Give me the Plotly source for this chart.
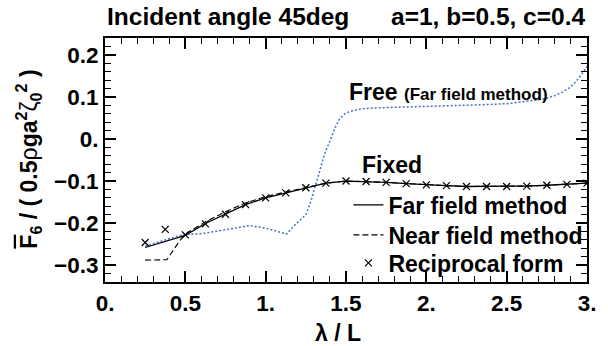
import plotly.graph_objects as go

# ---- data ----
free_x = [0.25, 0.3, 0.35, 0.4, 0.45, 0.5, 0.6, 0.7, 0.8, 0.9, 1.0, 1.05, 1.1, 1.13,
          1.18, 1.22, 1.25, 1.28, 1.31, 1.34, 1.37, 1.4, 1.43, 1.46, 1.5, 1.55, 1.6,
          1.7, 1.8, 1.9, 2.0, 2.1, 2.2, 2.3, 2.4, 2.5, 2.6, 2.7, 2.75, 2.8, 2.85, 2.9,
          2.95, 3.0]
free_y = [-0.255, -0.249, -0.243, -0.237, -0.231, -0.227, -0.225, -0.219, -0.212, -0.206,
          -0.212, -0.218, -0.223, -0.226, -0.205, -0.192, -0.180, -0.150, -0.112, -0.068,
          -0.032, -0.005, 0.025, 0.048, 0.062, 0.068, 0.072, 0.074, 0.075, 0.076, 0.077,
          0.078, 0.079, 0.080, 0.082, 0.084, 0.088, 0.093, 0.097, 0.103, 0.112, 0.124,
          0.145, 0.172]

fixed_x = [0.25, 0.375, 0.5, 0.625, 0.75, 0.875, 1.0, 1.125, 1.25, 1.375, 1.5, 1.625,
           1.75, 1.875, 2.0, 2.125, 2.25, 2.375, 2.5, 2.625, 2.75, 2.875, 3.0]
far_y = [-0.258, -0.244, -0.229, -0.201, -0.178, -0.156, -0.140, -0.128, -0.116, -0.105,
         -0.100, -0.101, -0.103, -0.106, -0.109, -0.111, -0.113, -0.113, -0.113, -0.112,
         -0.110, -0.108, -0.105]

near_x = [0.25, 0.385, 0.463, 0.5, 0.625, 0.75, 0.875, 1.0, 1.125, 1.25, 1.375, 1.5,
          1.625, 1.75, 1.875, 2.0, 2.125, 2.25, 2.375, 2.5, 2.625, 2.75, 2.875, 3.0]
near_y = [-0.288, -0.287, -0.243, -0.226, -0.197, -0.173, -0.152, -0.137, -0.126, -0.115,
          -0.105, -0.100, -0.101, -0.103, -0.106, -0.109, -0.111, -0.113, -0.113, -0.113,
          -0.112, -0.110, -0.108, -0.105]

recip_y = [-0.246, -0.215, -0.228, -0.202, -0.179, -0.156, -0.140, -0.128, -0.116, -0.105,
           -0.100, -0.101, -0.103, -0.106, -0.109, -0.111, -0.113, -0.113, -0.113, -0.112,
           -0.110, -0.108, -0.105]

x_tickvals = [0, 0.5, 1, 1.5, 2, 2.5, 3]
x_ticktext = ["0.", "0.5", "1.", "1.5", "2.", "2.5", "3."]
y_tickvals = [-0.3, -0.2, -0.1, 0, 0.1, 0.2]
y_ticktext = ["\u22120.3", "\u22120.2", "\u22120.1", "0.", "0.1", "0.2"]

FONT = "Liberation Sans, Arial, sans-serif"

fig = go.Figure()
fig.add_trace(go.Scatter(x=free_x, y=free_y, mode="lines", showlegend=False,
                         line=dict(color="#4472C4", width=1.5, dash="2px,2px")))
fig.add_trace(go.Scatter(x=fixed_x, y=far_y, mode="lines", name="Far field method",
                         legend="legend",
                         line=dict(color="black", width=1.3)))
fig.add_trace(go.Scatter(x=near_x, y=near_y, mode="lines", name="Near field method",
                         legend="legend2",
                         line=dict(color="black", width=1.1, dash="6px,3px")))
fig.add_trace(go.Scatter(x=fixed_x, y=recip_y, mode="markers", name="Reciprocal form",
                         legend="legend3",
                         marker=dict(symbol="x-thin", size=7, color="black",
                                     line=dict(color="black", width=1.2))))

axis_common = dict(showline=True, linecolor="black", linewidth=2, mirror="allticks",
                   ticks="inside", ticklen=11, tickwidth=1.5, tickcolor="black",
                   showgrid=False, zeroline=False,
                   tickfont=dict(size=22.5, family=FONT, color="black", weight="bold"))

fig.update_xaxes(range=[0, 3], tickmode="array", tickvals=x_tickvals, ticktext=x_ticktext,
                 minor=dict(dtick=0.1, ticks="inside", ticklen=6, tickwidth=1.2,
                            tickcolor="black"),
                 **axis_common)
fig.update_yaxes(range=[-0.34, 0.24], tickmode="array", tickvals=y_tickvals,
                 ticktext=y_ticktext,
                 minor=dict(dtick=0.02, tick0=0, ticks="inside", ticklen=6, tickwidth=1.2,
                            tickcolor="black"),
                 **axis_common)

leg_common = dict(x=0.505, xanchor="left", yanchor="middle", bgcolor="rgba(0,0,0,0)",
                  font=dict(size=23, weight="bold", family=FONT, color="black"),
                  itemwidth=30)

fig.update_layout(
    width=608, height=346,
    margin=dict(l=105, r=17, t=38, b=64),
    paper_bgcolor="white", plot_bgcolor="white",
    font=dict(family=FONT, size=23, color="black", weight="bold"),
    legend=dict(y=0.316, **leg_common),
    legend2=dict(y=0.193, **leg_common),
    legend3=dict(y=0.078, **leg_common),
)

anns = [
    dict(text="Incident angle 45deg", xref="paper", yref="paper", x=0.0, y=1.09,
         xanchor="left", yanchor="middle", showarrow=False, font=dict(size=24.5)),
    dict(text="a=1, b=0.5, c=0.4", xref="paper", yref="paper", x=1.0, y=1.09,
         xanchor="right", yanchor="middle", showarrow=False, font=dict(size=24.5)),
    dict(text="\u03bb / L", xref="paper", yref="paper", x=0.484, y=-0.21,
         xanchor="center", yanchor="middle", showarrow=False),
    dict(text="<span style='text-decoration:overline'>F</span><sub>6</sub> / ( 0.5"
              "<span style='font-weight:normal'>\u03c1</span>ga<sup>2</sup>"
              "<span style='font-weight:normal'>\u03b6</span><sub>0</sub><sup>2</sup> )",
         xref="paper", yref="paper", x=-0.16, y=0.505, textangle=-90,
         xanchor="center", yanchor="middle", showarrow=False),
    dict(text="Free <span style='font-size:17px'>(Far field method)</span>",
         xref="x", yref="y", x=1.506, y=0.112, xanchor="left", yanchor="middle",
         showarrow=False),
    dict(text="Fixed", xref="x", yref="y", x=1.586, y=-0.062, xanchor="left",
         yanchor="middle", showarrow=False),
]
fig.update_layout(annotations=anns)

fig.write_html("out.html")
